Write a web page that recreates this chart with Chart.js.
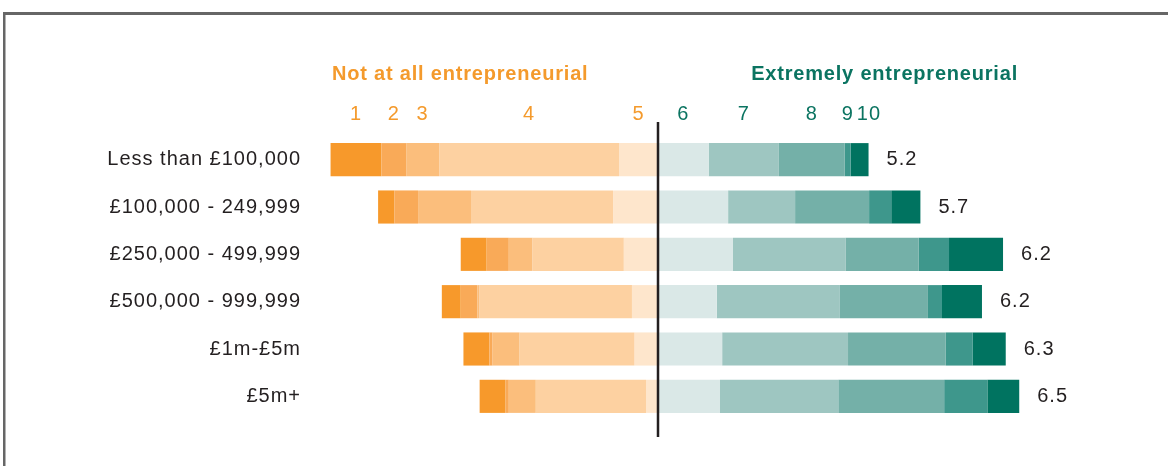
<!DOCTYPE html>
<html>
<head>
<meta charset="utf-8">
<script src="https://cdn.jsdelivr.net/npm/chart.js@4.4.1/dist/chart.umd.min.js"></script>
<style>
  html, body { margin: 0; padding: 0; background: #fff; }
  #wrap { width: 1168px; height: 466px; position: relative; }
</style>
</head>
<body>
<div id="wrap"><canvas id="chart"></canvas></div>
<script>
// share of respondents (%) giving each score, by turnover band
const categories = ['Less than £100,000', '£100,000 - 249,999', '£250,000 - 499,999',
                    '£500,000 - 999,999', '£1m-£5m', '£5m+'];
const score1  = [9.4, 3.0, 4.8, 3.5, 4.8, 4.8];
const score2  = [4.6, 4.4, 4.1, 3.1, 0.6, 0.6];
const score3  = [6.1, 9.8, 4.4, 0.3, 5.0, 5.0];
const score4  = [33.3, 26.3, 16.9, 28.3, 21.3, 20.4];
const score5  = [7.2, 8.3, 6.3, 4.8, 4.3, 2.2];
const score6  = [9.4, 13.0, 13.9, 10.9, 11.9, 11.5];
const score7  = [13.0, 12.4, 20.9, 22.8, 23.3, 21.9];
const score8  = [12.2, 13.7, 13.5, 16.3, 18.1, 19.6];
const score9  = [1.1, 4.1, 5.6, 2.6, 5.0, 8.0];
const score10 = [3.3, 5.4, 10.0, 7.4, 6.1, 5.9];
const averages = [5.2, 5.7, 6.2, 6.2, 6.3, 6.5];
const scoreLabels = ['1', '2', '3', '4', '5', '6', '7', '8', '9', '10'];
const leftTitle = 'Not at all entrepreneurial';
const rightTitle = 'Extremely entrepreneurial';

const colours = ['#F7992B', '#F9AA58', '#FBBE7C', '#FDD1A1', '#FEE6CC',
                 '#DAE8E7', '#9EC6C1', '#74B0A8', '#3E978C', '#007360'];
const orangeText = '#F49A2C';
const greenText = '#0B7461';
const ink = '#231F20';
const FONT = '"Liberation Sans", Arial, sans-serif';

const leftScores = [score1, score2, score3, score4, score5];
const rightScores = [score6, score7, score8, score9, score10];

// negative side stacks outward from 5, positive side outward from 6
const datasets = [];
for (let i = 4; i >= 0; i--) {
    datasets.push({ label: scoreLabels[i], data: leftScores[i].map(v => -v), backgroundColor: colours[i] });
}
for (let i = 0; i < 5; i++) {
    datasets.push({ label: scoreLabels[i + 5], data: rightScores[i], backgroundColor: colours[i + 5] });
}

const decorations = {
    id: 'decorations',
    beforeDraw(chart) {
        const ctx = chart.ctx;
        ctx.letterSpacing = '1px';
        // frame
        ctx.save();
        ctx.fillStyle = '#666666';
        ctx.fillRect(3, 12, chart.width, 3);
        ctx.fillRect(3, 12, 2.5, chart.height);
        ctx.restore();
    },
    afterDatasetsDraw(chart) {
        const ctx = chart.ctx;
        const x = chart.scales.x, y = chart.scales.y;
        const zero = Math.round(x.getPixelForValue(0));

        ctx.save();
        ctx.strokeStyle = ink;
        ctx.lineWidth = 2.5;
        ctx.beginPath();
        ctx.moveTo(zero, chart.chartArea.top - 14);
        ctx.lineTo(zero, chart.chartArea.bottom + 17);
        ctx.stroke();

        // averages after each bar
        ctx.font = '20px ' + FONT;
        ctx.fillStyle = ink;
        ctx.textAlign = 'left';
        ctx.textBaseline = 'middle';
        categories.forEach((c, r) => {
            const end = rightScores.reduce((s, a) => s + a[r], 0);
            ctx.fillText(averages[r].toFixed(1), x.getPixelForValue(end) + 18, y.getPixelForValue(r));
        });

        // score numbers, centred on the first row's segments
        const marks = [];
        let acc = -leftScores.reduce((s, a) => s + a[0], 0);
        leftScores.forEach((a, i) => {
            marks.push({ text: scoreLabels[i], mid: x.getPixelForValue(acc + a[0] / 2), colour: orangeText });
            acc += a[0];
        });
        acc = 0;
        rightScores.forEach((a, i) => {
            marks.push({ text: scoreLabels[i + 5], mid: x.getPixelForValue(acc + a[0] / 2), colour: greenText });
            acc += a[0];
        });
        const numY = y.getPixelForValue(0) - 45;
        ctx.textAlign = 'left';
        let prevRight = -Infinity;
        marks.forEach(m => {
            const w = ctx.measureText(m.text).width;
            let left = m.mid - w / 2;
            if (left < prevRight + 3) left = prevRight + 3;
            ctx.fillStyle = m.colour;
            ctx.fillText(m.text, left, numY);
            prevRight = left + w;
        });

        // titles
        const titleY = y.getPixelForValue(0) - 85;
        ctx.font = 'bold 20px ' + FONT;
        ctx.letterSpacing = '0.8px';
        ctx.fillStyle = orangeText;
        ctx.textAlign = 'left';
        ctx.fillText(leftTitle, zero - 326, titleY);
        ctx.fillStyle = greenText;
        ctx.textAlign = 'right';
        ctx.fillText(rightTitle, zero + 360, titleY);
        ctx.restore();
    }
};

new Chart(document.getElementById('chart').getContext('2d'), {
    type: 'bar',
    data: { labels: categories, datasets: datasets },
    options: {
        indexAxis: 'y',
        responsive: true,
        maintainAspectRatio: false,
        animation: false,
        layout: { padding: { top: 136, bottom: 46, left: 0, right: 78 } },
        datasets: { bar: { barPercentage: 0.7, categoryPercentage: 1.0, borderWidth: 0 } },
        plugins: {
            legend: { display: false },
            tooltip: { enabled: false }
        },
        scales: {
            x: {
                stacked: true,
                display: false,
                min: -62,
                max: 80
            },
            y: {
                stacked: true,
                grid: { display: false, drawTicks: false },
                border: { display: false },
                ticks: {
                    color: ink,
                    padding: 22,
                    font: { family: FONT, size: 20 }
                },
                afterFit(scale) { scale.width = 323; }
            }
        }
    },
    plugins: [decorations]
});
</script>
</body>
</html>
